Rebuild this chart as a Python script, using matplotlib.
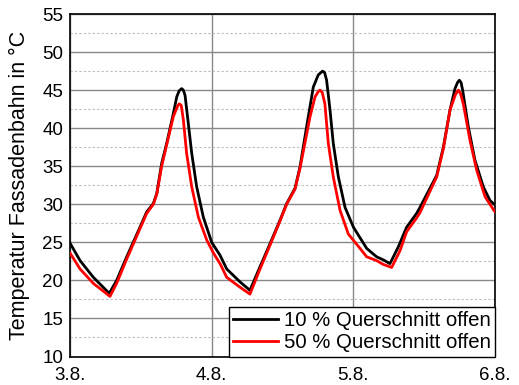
import numpy as np
import matplotlib.pyplot as plt
from matplotlib.ticker import MultipleLocator

plt.rcParams['font.family'] = ['Liberation Sans', 'DejaVu Sans']

# time in days after 3.8. 00:00
t_10 = [0.0, 0.071, 0.165, 0.277, 0.329, 0.40, 0.494, 0.541, 0.588, 0.612,
        0.647, 0.682, 0.729, 0.753, 0.770, 0.788, 0.800, 0.812, 0.835, 0.859,
        0.894, 0.941, 1.0, 1.059, 1.106, 1.20, 1.27, 1.341, 1.411, 1.482,
        1.529, 1.588, 1.623, 1.670, 1.717, 1.752, 1.783, 1.797, 1.811, 1.835,
        1.858, 1.894, 1.941, 2.0, 2.047, 2.094, 2.164, 2.211, 2.258, 2.317,
        2.376, 2.446, 2.470, 2.588, 2.635, 2.682, 2.717, 2.735, 2.748, 2.760,
        2.771, 2.811, 2.858, 2.917, 2.964, 3.0]
temp_10 = [24.9, 22.6, 20.4, 18.3, 20.0, 23.1, 27.0, 29.0, 30.1, 31.4,
           35.4, 38.0, 41.9, 44.1, 44.9, 45.2, 45.0, 44.3, 40.6, 36.7,
           32.3, 28.3, 25.0, 23.3, 21.5, 19.8, 18.7, 21.8, 24.8, 27.9,
           30.1, 32.1, 34.9, 40.2, 45.4, 47.0, 47.5, 47.3, 46.3, 42.4,
           38.0, 33.6, 29.6, 27.0, 25.6, 24.2, 23.1, 22.7, 22.2, 24.4,
           27.0, 28.8, 29.6, 33.8, 37.5, 42.4, 45.2, 46.0, 46.3, 46.0,
           45.0, 40.2, 35.8, 32.3, 30.5, 29.9]

t_50 = [0.0, 0.071, 0.165, 0.282, 0.329, 0.40, 0.494, 0.541, 0.588, 0.612,
        0.647, 0.682, 0.729, 0.748, 0.762, 0.771, 0.785, 0.800, 0.823, 0.859,
        0.906, 0.965, 1.012, 1.059, 1.106, 1.20, 1.27, 1.341, 1.411, 1.482,
        1.529, 1.588, 1.623, 1.694, 1.729, 1.752, 1.764, 1.780, 1.799, 1.823,
        1.858, 1.906, 1.964, 2.047, 2.094, 2.164, 2.211, 2.270, 2.329, 2.376,
        2.446, 2.470, 2.588, 2.635, 2.682, 2.720, 2.741, 2.755, 2.776, 2.823,
        2.870, 2.929, 2.992, 3.0]
temp_50 = [23.6, 21.5, 19.6, 17.9, 19.6, 22.8, 26.8, 28.8, 30.0, 31.3,
           35.0, 37.8, 41.5, 42.4, 43.0, 43.2, 43.0, 41.1, 36.7, 32.3,
           28.3, 25.3, 23.6, 22.2, 20.4, 19.1, 18.2, 21.5, 24.6, 27.8,
           30.0, 32.0, 34.7, 41.5, 44.1, 44.8, 45.0, 44.7, 43.2, 38.0,
           33.6, 29.2, 26.1, 24.2, 23.1, 22.6, 22.1, 21.7, 23.9, 26.4,
           28.2, 28.9, 33.6, 37.3, 42.4, 44.4, 45.0, 44.6, 43.2, 38.4,
           34.5, 31.0, 29.2, 29.0]

day_labels = ['3.8.', '4.8.', '5.8.', '6.8.']

fig = plt.figure(figsize=(5.19, 3.85), dpi=100)
ax = fig.add_axes([0.1349, 0.074, 0.819, 0.8896])

ax.plot(t_10, temp_10, color='black', linewidth=2.0, label='10 % Querschnitt offen',
        zorder=3, solid_joinstyle='round')
ax.plot(t_50, temp_50, color='#ff0000', linewidth=2.0, label='50 % Querschnitt offen',
        zorder=4, solid_joinstyle='round')

ax.set_xlim(0, 3)
ax.set_ylim(10, 55)
ax.set_xticks(range(len(day_labels)))
ax.set_xticklabels(day_labels)
ax.yaxis.set_major_locator(MultipleLocator(5))
ax.yaxis.set_minor_locator(MultipleLocator(2.5))
ax.tick_params(axis='both', which='both', length=0, labelsize=13.5)
ax.tick_params(axis='x', pad=7.5)
ax.tick_params(axis='y', pad=5)

ax.grid(True, which='major', color='#888888', linewidth=1.0)
ax.grid(True, which='minor', axis='y', color='#bbbbbb', linewidth=0.8, linestyle=(0, (2, 2)))
ax.set_axisbelow(True)
for s in ax.spines.values():
    s.set_color('black')
    s.set_linewidth(1.2)

ax.set_ylabel('Temperatur Fassadenbahn in °C', fontsize=15.5)
ax.yaxis.set_label_coords(-0.095, 0.5)

leg = ax.legend(loc='lower right', fontsize=14.7, frameon=True, fancybox=False,
                edgecolor='black', framealpha=1, borderaxespad=0.0,
                handlelength=2.2, handletextpad=0.3, borderpad=0.2, labelspacing=0.15)
leg.get_frame().set_linewidth(1.0)

fig.savefig('out.png', dpi=100)
